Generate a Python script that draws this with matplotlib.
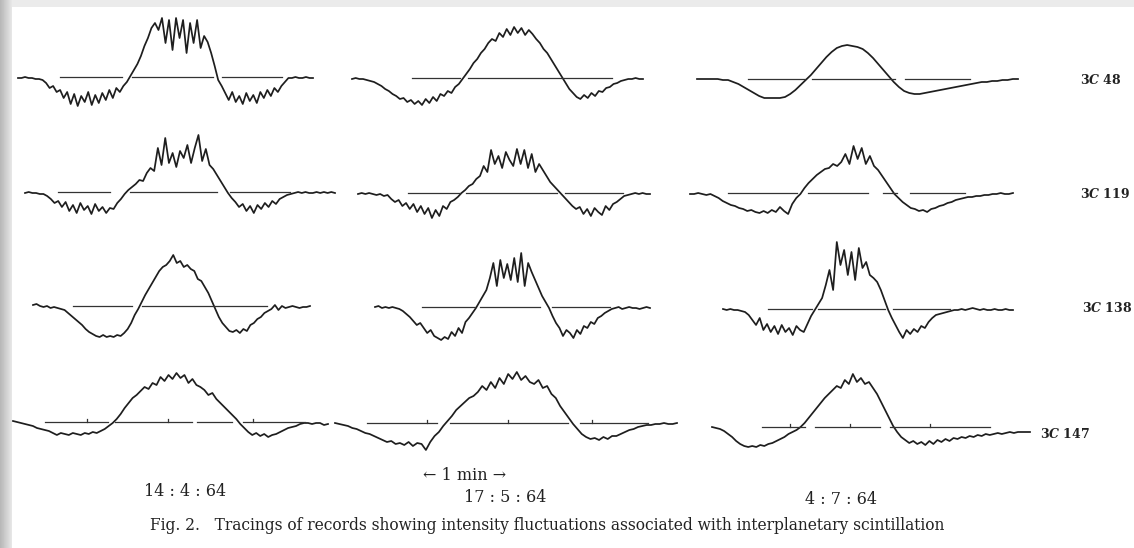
import matplotlib
matplotlib.use('Agg')
import matplotlib.pyplot as plt
import numpy as np

plt.rcParams['font.family'] = ['DejaVu Serif', 'DejaVu Sans']
plt.rcParams['mathtext.fontset'] = 'custom'
plt.rcParams['mathtext.it'] = 'DejaVu Serif:italic:bold'
plt.rcParams['mathtext.rm'] = 'DejaVu Serif:bold'

# sources and dates
sources = ['3C 48', '3C 119', '3C 138', '3C 147']
dates = ['14 : 4 : 64', '17 : 5 : 64', '4 : 7 : 64']

# deflections (pixels, up is positive)
c48_1404 = [0, 0, 1, 0, 0, -1, -1, -2, -5, -10, -8, -14, -12, -20, -14, -26, -16, -28, -18, -24,
            -14, -27, -17, -25, -15, -22, -12, -20, -10, -14, -8, -4, 2, 8, 14, 22, 32, 40, 50, 55,
            48, 60, 35, 58, 28, 60, 40, 58, 25, 55, 35, 58, 30, 42, 36, 25, 12, -2, -8, -15,
            -22, -14, -24, -18, -26, -15, -23, -17, -25, -14, -20, -12, -18, -10, -14, -8, -4, 0, 0, 1,
            0, 0, 1, 0, 0]
c48_1705 = [0, 1, 0, 0, -1, -2, -3, -5, -7, -10, -12, -15, -17, -20, -19, -23, -21, -25, -22, -26,
            -20, -24, -18, -22, -15, -17, -12, -14, -8, -5, 0, 5, 10, 16, 20, 26, 30, 36, 40, 38,
            46, 42, 50, 44, 52, 46, 51, 44, 49, 45, 40, 36, 30, 26, 20, 14, 8, 2, -4, -10,
            -14, -18, -20, -16, -19, -14, -17, -12, -13, -9, -8, -5, -4, -2, -1, 0, 0, 1, 0, 0]
c48_0407 = [1, 1, 1, 1, 1, 0, 0, -2, -4, -7, -10, -13, -16, -18, -18, -18, -18, -17, -14, -10,
            -5, 0, 5, 11, 17, 23, 28, 32, 34, 35, 34, 33, 31, 27, 22, 16, 10, 4, -2, -7,
            -11, -13, -14, -14, -13, -12, -11, -10, -9, -8, -7, -6, -5, -4, -3, -2, -2, -1, -1, 0,
            0, 1, 1]

c119_1404 = [0, 1, 0, 0, -1, -1, -3, -6, -10, -8, -14, -9, -18, -12, -20, -10, -17, -13, -21, -11,
             -18, -14, -20, -15, -16, -10, -6, -1, 3, 6, 9, 13, 12, 20, 25, 22, 45, 28, 55, 30,
             40, 26, 42, 35, 48, 30, 45, 58, 32, 44, 28, 24, 18, 12, 6, 0, -5, -9, -14, -11,
             -18, -13, -20, -12, -16, -10, -14, -8, -11, -6, -4, -2, -1, 0, 1, 0, 1, 0, 0, 1,
             0, 1, 0, 1, 0]
c119_1705 = [0, 1, 0, 1, 0, -1, 0, -2, -1, -5, -8, -6, -12, -9, -15, -10, -18, -12, -20, -14,
             -24, -16, -22, -12, -15, -8, -6, -3, 1, 4, 8, 10, 15, 18, 28, 22, 44, 30, 38, 26,
             42, 34, 28, 45, 30, 44, 26, 40, 22, 30, 24, 18, 12, 8, 4, 0, -4, -8, -12, -15,
             -13, -20, -15, -22, -14, -18, -21, -12, -16, -10, -8, -5, -2, -1, 0, 1, 0, 1, 0, 0]
c119_0407 = [0, 0, 1, 0, -1, 0, -2, -4, -7, -9, -11, -12, -14, -15, -17, -16, -18, -19, -17, -19,
             -16, -18, -13, -17, -20, -10, -4, 0, 6, 11, 15, 19, 22, 25, 26, 30, 28, 32, 40, 30,
             48, 35, 46, 30, 38, 28, 24, 18, 12, 6, 0, -4, -8, -11, -14, -15, -17, -16, -18, -15,
             -14, -12, -11, -9, -8, -6, -5, -4, -3, -3, -2, -2, -1, -1, 0, 0, 1, 0, 0, 1]

c138_1404 = [2, 3, 1, 0, 1, -1, 0, -1, -2, -3, -6, -9, -12, -15, -18, -22, -25, -27, -29, -30,
             -28, -30, -29, -30, -28, -29, -26, -22, -16, -8, -2, 5, 12, 18, 24, 30, 36, 40, 42, 46,
             52, 44, 46, 40, 42, 38, 36, 28, 26, 20, 14, 6, -2, -10, -16, -20, -24, -25, -23, -26,
             -22, -24, -18, -16, -12, -10, -6, -4, -2, 2, -3, 1, -1, 0, 1, 0, -1, 0, 0, 1]
c138_1705 = [1, 2, 0, 1, 0, 1, 0, -1, -3, -6, -9, -13, -17, -15, -20, -25, -22, -28, -30, -32,
             -29, -31, -24, -28, -20, -25, -14, -10, -5, 0, 6, 12, 18, 30, 45, 22, 48, 30, 44, 28,
             50, 26, 55, 22, 45, 36, 28, 20, 12, 6, 0, -8, -15, -20, -28, -22, -25, -30, -22, -26,
             -18, -20, -14, -16, -10, -8, -5, -3, -1, 0, 1, -1, 0, 1, 0, 0, -1, 0, 1, 0]
c138_0407 = [1, 0, 1, 0, 0, -1, -2, -5, -10, -15, -8, -20, -14, -22, -16, -24, -15, -22, -18, -25,
             -16, -20, -22, -14, -6, 0, 6, 12, 25, 40, 20, 68, 45, 60, 35, 58, 30, 62, 42, 48,
             35, 32, 28, 20, 10, 0, -8, -15, -22, -28, -20, -24, -19, -22, -16, -18, -12, -8, -5, -4,
             -3, -2, -1, 0, 0, 1, 0, 1, 2, 1, 0, 1, 0, 0, 1, 0, 0, 1, 0, 0]

c147_1404 = [2, 1, 0, -1, -2, -3, -5, -6, -7, -8, -10, -12, -10, -11, -12, -10, -11, -12, -10, -11,
             -9, -10, -8, -6, -3, 0, 4, 9, 15, 20, 25, 28, 32, 36, 34, 40, 38, 46, 42, 48,
             44, 50, 45, 48, 40, 44, 38, 36, 33, 28, 30, 24, 20, 16, 12, 8, 4, -1, -5, -9,
             -12, -10, -13, -11, -14, -12, -11, -9, -7, -5, -4, -3, -1, 0, 0, -1, 0, 0, -2, -1]
c147_1705 = [1, 0, -1, -2, -4, -5, -7, -9, -10, -12, -14, -16, -18, -17, -20, -19, -21, -18, -22, -19,
             -20, -26, -18, -12, -8, -2, 3, 8, 14, 18, 22, 26, 28, 32, 38, 34, 42, 36, 46, 40,
             50, 45, 52, 44, 48, 42, 40, 44, 36, 38, 30, 26, 18, 12, 6, 0, -5, -10, -13, -15,
             -14, -16, -13, -15, -12, -12, -10, -8, -6, -5, -3, -2, -1, -1, 0, 0, 1, 0, 0, 1]
c147_0407 = [1, 0, -1, -3, -6, -9, -13, -16, -18, -19, -18, -19, -17, -18, -16, -15, -13, -11, -9, -6,
             -4, -2, 1, 5, 10, 15, 20, 25, 30, 34, 38, 42, 40, 48, 44, 54, 46, 50, 44, 46,
             40, 34, 26, 18, 10, 2, -4, -9, -12, -15, -13, -16, -14, -17, -13, -16, -12, -14, -11, -13,
             -10, -11, -9, -10, -8, -9, -7, -8, -6, -7, -6, -5, -6, -5, -4, -5, -4, -4, -4, -4]

traces = [[c48_1404, c48_1705, c48_0407],
          [c119_1404, c119_1705, c119_0407],
          [c138_1404, c138_1705, c138_0407],
          [c147_1404, c147_1705, c147_0407]]

# layout in pixels: (x start, x end, baseline y, reference-line pieces, tick marks)
layout = [
    [(18, 313, 78, [(60, 122), (132, 213), (222, 282)], []),
     (352, 643, 79, [(412, 460), (468, 612)], []),
     (697, 1018, 80, [(748, 805), (812, 895), (905, 970)], [])],
    [(25, 335, 193, [(58, 110), (130, 217), (230, 290)], []),
     (358, 650, 194, [(408, 460), (466, 557), (565, 623)], []),
     (690, 1013, 194, [(728, 797), (808, 868), (883, 897), (910, 965)], [])],
    [(33, 310, 307, [(73, 132), (142, 267)], []),
     (375, 650, 308, [(422, 475), (480, 540), (552, 610)], []),
     (723, 1013, 310, [(768, 812), (818, 885), (893, 950)], [])],
    [(13, 328, 423, [(45, 108), (115, 192), (197, 232), (243, 305)], [87, 168, 253]),
     (335, 677, 424, [(367, 437), (450, 568), (580, 648)], [427, 508, 592]),
     (712, 1030, 428, [(762, 805), (815, 880), (890, 990)], [790, 850, 930])],
]
label_pos = [(1080, 80), (1080, 194), (1082, 308), (1040, 434)]

fig = plt.figure(figsize=(11.34, 5.48), dpi=100)
ax = fig.add_axes([0, 0, 1, 1])
ax.set_xlim(0, 1134)
ax.set_ylim(548, 0)
ax.axis('off')

# scanned page edges
grad = np.linspace(0.72, 0.9, 12).reshape(1, -1)
ax.imshow(grad, cmap='gray', vmin=0, vmax=1, extent=(0, 12, 548, 0), aspect='auto')
ax.fill_between([12, 1134], 0, 7, color='#ebebeb', lw=0)

ink = '#1e1e1e'
for r in range(4):
    for c in range(3):
        x0, x1, base, refs, ticks = layout[r][c]
        vals = np.array(traces[r][c], dtype=float)
        xs = np.linspace(x0, x1, len(vals))
        ax.plot(xs, base - vals, color=ink, lw=1.25, solid_joinstyle='round')
        for a, b in refs:
            ax.plot([a, b], [base - 1, base - 1], color='#333333', lw=0.9)
        for t in ticks:
            ax.plot([t, t], [base - 1, base - 4], color='#333333', lw=0.9)
    lx, ly = label_pos[r]
    name = sources[r].replace('C', '$C$')
    ax.text(lx, ly, name, fontsize=9, fontweight='bold', va='center', ha='left', color='#222222')

date_pos = [(185, 492), (505, 497), (841, 500)]
for d, (dx, dy) in zip(dates, date_pos):
    ax.text(dx, dy, d, fontsize=11.5, ha='center', va='center', color='#222222')

ax.text(465, 475, '\u2190 1 min \u2192', fontsize=11.5, ha='center', va='center', color='#222222')
ax.text(150, 525, 'Fig. 2.   Tracings of records showing intensity fluctuations associated with interplanetary scintillation',
        fontsize=11.2, ha='left', va='center', color='#222222')

fig.savefig('out.png', dpi=100)
